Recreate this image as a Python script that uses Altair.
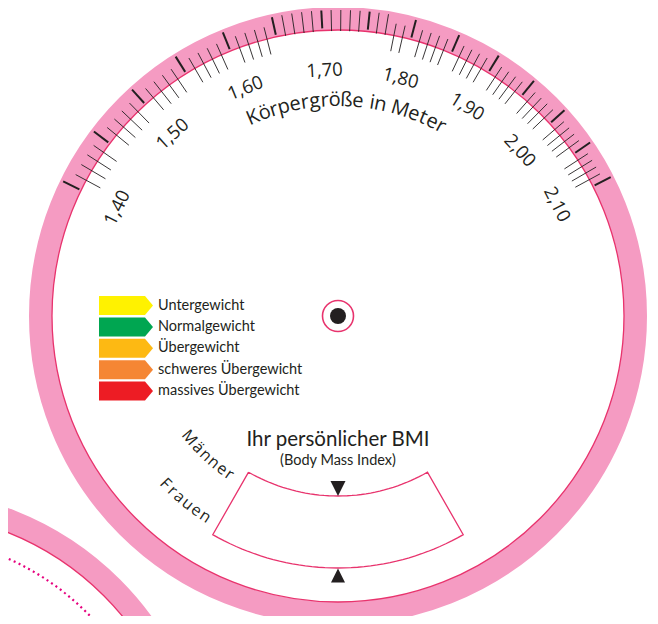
import math
import pandas as pd
import altair as alt

# ---------------- data ----------------
label_values = [1.40, 1.50, 1.60, 1.70, 1.80, 1.90, 2.00, 2.10]
label_texts = ["1,40", "1,50", "1,60", "1,70", "1,80", "1,90", "2,00", "2,10"]
tick_cm = list(range(140, 211))           # one tick per centimetre
axis_title = "Körpergröße in Meter"
legend_labels = ["Untergewicht", "Normalgewicht", "Übergewicht",
                 "schweres Übergewicht", "massives Übergewicht"]
legend_colors = ["#fff200", "#00a651", "#fdb913", "#f58634", "#ed1c24"]
bmi_title = "Ihr persönlicher BMI"
bmi_subtitle = "(Body Mass Index)"
men_label = "Männer"
women_label = "Frauen"

# ---------------- geometry / style ----------------
CX, CY = 338.0, 316.0            # wheel centre (page pixels)
CX2, CY2 = -98.4, 798.0          # neighbouring wheel (bottom-left)
R_IN = 286.0
RING_MID, RING_W = 297.5, 23.0
A0, K = -63.9, 313.0             # angle(h) = A0 + K*ln(h/1.40)
PINK = "#f59bc2"
DARKPINK = "#e8336d"
MAGENTA = "#e6007e"
INK = "#231f20"
FONT = "Open Sans"
FONT2 = "Lato"


def h_angle(h):
    return A0 + K * math.log(h / 1.40)


def top_pt(r, a):
    t = math.radians(a)
    return CX + r * math.sin(t), CY - r * math.cos(t)


def bot_pt(r, p):
    t = math.radians(p)
    return CX - r * math.sin(t), CY + r * math.cos(t)


def cw(ch):
    if ch == " ":
        return 0.28
    if ch in "il,.I":
        return 0.27
    if ch in "rtf":
        return 0.41
    if ch in "mwM":
        return 0.86
    if ch.isupper():
        return 0.66
    return 0.58


def spread(text, a_start, a_end):
    w = [cw(c) for c in text]
    centers, acc = [], 0.0
    for wi in w:
        centers.append(acc + wi / 2)
        acc += wi
    c0, c1 = centers[0], centers[-1]
    return [a_start + (c - c0) / (c1 - c0) * (a_end - a_start) for c in centers]


XS = alt.Scale(domain=[8, 650], nice=False, zero=False)
YS = alt.Scale(domain=[8, 616], nice=False, zero=False, reverse=True)
X = alt.X("x:Q", scale=XS, axis=None)
Y = alt.Y("y:Q", scale=YS, axis=None)

# rings (circle symbols, size = diameter^2)
rings = pd.DataFrame([
    dict(x=CX, y=CY, s=(2 * RING_MID) ** 2, w=RING_W, c=PINK),
    dict(x=CX, y=CY, s=(2 * R_IN) ** 2, w=1.3, c=DARKPINK),
    dict(x=CX2, y=CY2, s=(2 * RING_MID) ** 2, w=RING_W, c=PINK),
    dict(x=CX2, y=CY2, s=(2 * R_IN) ** 2, w=1.3, c=DARKPINK),
    dict(x=CX, y=CY, s=31.0 ** 2, w=1.6, c=DARKPINK),
])
ring_layer = alt.Chart(rings).mark_point(shape="circle", filled=False, opacity=1).encode(
    x=X, y=Y,
    size=alt.Size("s:Q", scale=None),
    strokeWidth=alt.StrokeWidth("w:Q", scale=None),
    stroke=alt.Stroke("c:N", scale=None),
)

dotted = pd.DataFrame([dict(x=CX2, y=CY2, s=(2 * 262.0) ** 2)])
dotted_layer = alt.Chart(dotted).mark_point(
    shape="circle", filled=False, opacity=1, stroke=MAGENTA, strokeWidth=2.2,
    strokeDash=[2, 3.4]).encode(x=X, y=Y, size=alt.Size("s:Q", scale=None))

dot = pd.DataFrame([dict(x=CX, y=CY, s=16.0 ** 2)])
dot_layer = alt.Chart(dot).mark_point(shape="circle", filled=True, opacity=1,
                                      color=INK, strokeWidth=0).encode(
    x=X, y=Y, size=alt.Size("s:Q", scale=None))

# ticks
trows = []
for cm in tick_cm:
    a = h_angle(cm / 100.0)
    if cm % 5 == 0:
        r1, r2, w = 288.0, 306.0, 2.0
    elif 165 < cm < 178:
        r1, r2, w = 285.0, 306.0, 0.9
    else:
        r1, r2, w = 270.0, 298.0, 0.9
    x1, y1 = top_pt(r1, a)
    x2, y2 = top_pt(r2, a)
    trows.append(dict(x=x1, y=y1, x2=x2, y2=y2, w=w))
tick_layer = alt.Chart(pd.DataFrame(trows)).mark_rule(color=INK).encode(
    x=X, y=Y, x2="x2:Q", y2="y2:Q",
    strokeWidth=alt.StrokeWidth("w:Q", scale=None))

# tick labels
lrows = []
for v, t in zip(label_values, label_texts):
    a = h_angle(v)
    x, y = top_pt(246.0, a)
    lrows.append(dict(x=x, y=y, t=t, ang=a % 360))
label_layer = alt.Chart(pd.DataFrame(lrows)).mark_text(
    font=FONT, fontSize=18.5, color=INK, align="center", baseline="middle").encode(
    x=X, y=Y, text="t:N", angle=alt.Angle("ang:Q", scale=None))

# curved texts


def curved_top(text, r, a0, a1):
    rows = []
    for ch, a in zip(text, spread(text, a0, a1)):
        x, y = top_pt(r, a)
        rows.append(dict(x=x, y=y, t=ch, ang=a % 360))
    return rows


def curved_bottom(text, r, p0, p1):
    rows = []
    for ch, p in zip(text, spread(text, p0, p1)):
        x, y = bot_pt(r, p)
        rows.append(dict(x=x, y=y, t=ch, ang=p % 360))
    return rows


title_layer = alt.Chart(pd.DataFrame(curved_top(axis_title, 216.0, -23.2, 28.5))).mark_text(
    font=FONT, fontSize=20, color=INK, align="center", baseline="middle").encode(
    x=X, y=Y, text="t:N", angle=alt.Angle("ang:Q", scale=None))

mf_rows = curved_bottom(men_label, 192.0, 50.7, 34.4) + curved_bottom(women_label, 240.5, 45.8, 33.5)
mf_layer = alt.Chart(pd.DataFrame(mf_rows)).mark_text(
    font=FONT, fontSize=16, color=INK, align="center", baseline="middle").encode(
    x=X, y=Y, text="t:N", angle=alt.Angle("ang:Q", scale=None))

# window (annular sector)
wrows = []
n = 40
k = 0
for i in range(n + 1):
    p = 29.8 - 59.6 * i / n
    x, y = bot_pt(180.0, p)
    wrows.append(dict(x=x, y=y, o=k)); k += 1
for i in range(n + 1):
    p = -29.8 + 59.6 * i / n
    x, y = bot_pt(252.0, p)
    wrows.append(dict(x=x, y=y, o=k)); k += 1
x, y = bot_pt(180.0, 29.8)
wrows.append(dict(x=x, y=y, o=k))
window_layer = alt.Chart(pd.DataFrame(wrows)).mark_line(
    color=DARKPINK, strokeWidth=1.3, strokeJoin="miter").encode(
    x=X, y=Y, order="o:Q")

# pointer triangles
tx1, ty1 = bot_pt(172.5, 0)
tri_down = alt.Chart(pd.DataFrame([dict(x=tx1, y=ty1, s=15.0 ** 2)])).mark_point(
    shape="M-1,-1L1,-1L0,1Z", filled=True, opacity=1, color=INK, strokeWidth=0).encode(
    x=X, y=Y, size=alt.Size("s:Q", scale=None))
tx2, ty2 = bot_pt(259.5, 0)
tri_up = alt.Chart(pd.DataFrame([dict(x=tx2, y=ty2, s=14.0 ** 2)])).mark_point(
    shape="M0,-1L1,1L-1,1Z", filled=True, opacity=1, color=INK, strokeWidth=0).encode(
    x=X, y=Y, size=alt.Size("s:Q", scale=None))

# BMI heading
head = pd.DataFrame([
    dict(x=CX, y=446.0, t=bmi_title, fs=20.5),
    dict(x=CX, y=465.0, t=bmi_subtitle, fs=14.5),
])
head_layer = alt.Chart(head).mark_text(
    font=FONT2, color=INK, align="center", baseline="alphabetic").encode(
    x=X, y=Y, text="t:N", size=alt.Size("fs:Q", scale=None))

# legend
leg = pd.DataFrame([dict(x=126.0, y=305.5 + 21.4 * i, xt=158.0, t=t, c=c)
                    for i, (t, c) in enumerate(zip(legend_labels, legend_colors))])
arrow_layer = alt.Chart(leg).mark_point(
    shape="M-1,-0.352L0.704,-0.352L1,0L0.704,0.352L-1,0.352Z",
    filled=True, opacity=1, strokeWidth=0, size=54 ** 2).encode(
    x=X, y=Y, color=alt.Color("c:N", scale=None))
legtext_layer = alt.Chart(leg).mark_text(
    font=FONT2, fontSize=14.5, color=INK, align="left", baseline="middle").encode(
    x=alt.X("xt:Q", scale=XS, axis=None), y=Y, text="t:N")

chart = alt.layer(
    ring_layer, dotted_layer, dot_layer, tick_layer, label_layer, title_layer,
    mf_layer, window_layer, tri_down, tri_up, head_layer, arrow_layer, legtext_layer,
).properties(
    width=642, height=608, padding=0, autosize=alt.AutoSizeParams(type="none"),
    background="white",
).configure_view(stroke=None)

chart.save("out.html", embed_options={"renderer": "svg", "actions": False})
